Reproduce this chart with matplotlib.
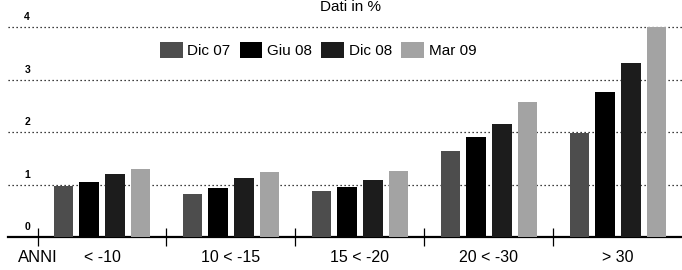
import matplotlib
matplotlib.use("Agg")
import numpy as np
import matplotlib.pyplot as plt
from matplotlib.patches import Patch
from matplotlib.transforms import blended_transform_factory

# ----------------------------------------------------------------------------------------------------------------------
# Data (percent values)
categories = ["< -10", "10 < -15", "15 < -20", "20 < -30", "> 30"]
series_names = ["Dic 07", "Giu 08", "Dic 08", "Mar 09"]
dic07 = [0.97, 0.82, 0.88, 1.64, 1.98]
giu08 = [1.05, 0.93, 0.95, 1.90, 2.76]
dic08 = [1.20, 1.12, 1.09, 2.15, 3.31]
mar09 = [1.30, 1.24, 1.26, 2.57, 4.00]
y_ticks = [0, 1, 2, 3, 4]
# ----------------------------------------------------------------------------------------------------------------------

plt.rcParams["font.family"] = ["Liberation Sans", "DejaVu Sans"]

W, H = 682, 270
fig = plt.figure(figsize=(W / 100, H / 100), dpi=100)

# axes placement in pixels: x-axis at y=237, 1 unit = 52.5 px, group spacing 129 px
unit = 52.5
ymax = 4.4
x_left, x_right = 8, 682
ax = fig.add_axes([x_left / W, (H - 237) / H, (x_right - x_left) / W, ymax * unit / H])
gspace = 129.0
ax.set_xlim((x_left - 102) / gspace, (x_right - 102) / gspace)
ax.set_ylim(0, ymax)

colors = ["#4d4d4d", "#000000", "#1c1c1c", "#a3a3a3"]
all_series = [dic07, giu08, dic08, mar09]
x = np.arange(len(categories))
step = 0.198
width = 0.152
for i, (vals, col) in enumerate(zip(all_series, colors)):
    ax.bar(x + (i - 1.5) * step, vals, width, color=col, zorder=3, label=series_names[i])

# dotted gridlines
for yv in y_ticks[1:]:
    ax.axhline(yv, color="black", linestyle=(0, (1, 2.2)), linewidth=0.9, zorder=1)

# y labels sitting above each gridline
for yv in y_ticks:
    ax.text(-0.58, yv + 0.09, str(yv), fontsize=7.5, fontweight="bold", ha="center", va="bottom")

for s in ["top", "left", "right"]:
    ax.spines[s].set_visible(False)
ax.spines["bottom"].set_linewidth(1.6)
ax.set_yticks([])

# boundary ticks crossing the axis, labels as text below
ax.set_xticks(np.arange(len(categories)) - 0.5)
ax.set_xticklabels([])
ax.tick_params(axis="x", direction="inout", length=13, width=0.9, color="black")

trans = blended_transform_factory(ax.transData, fig.transFigure)
ax.text(-0.5, 1 - 258 / H, "ANNI", transform=trans, ha="center", va="center", fontsize=12)
for xi, lab in zip(x, categories):
    ax.text(xi, 1 - 258 / H, lab, transform=trans, ha="center", va="center", fontsize=11.5)

# legend across the top
handles = [Patch(facecolor=c, edgecolor="none") for c in colors]
fig.legend(handles, series_names, loc="center", bbox_to_anchor=(318 / W, 1 - 50 / H), ncol=4,
           frameon=False, fontsize=11, handlelength=1.5, handleheight=1.3, handletextpad=0.3,
           columnspacing=0.6, borderpad=0)

# title at the top edge
fig.text(351 / W, 1 - 11 / H, "Dati in %", ha="center", va="baseline", fontsize=11)

fig.savefig("out.png", dpi=100)
